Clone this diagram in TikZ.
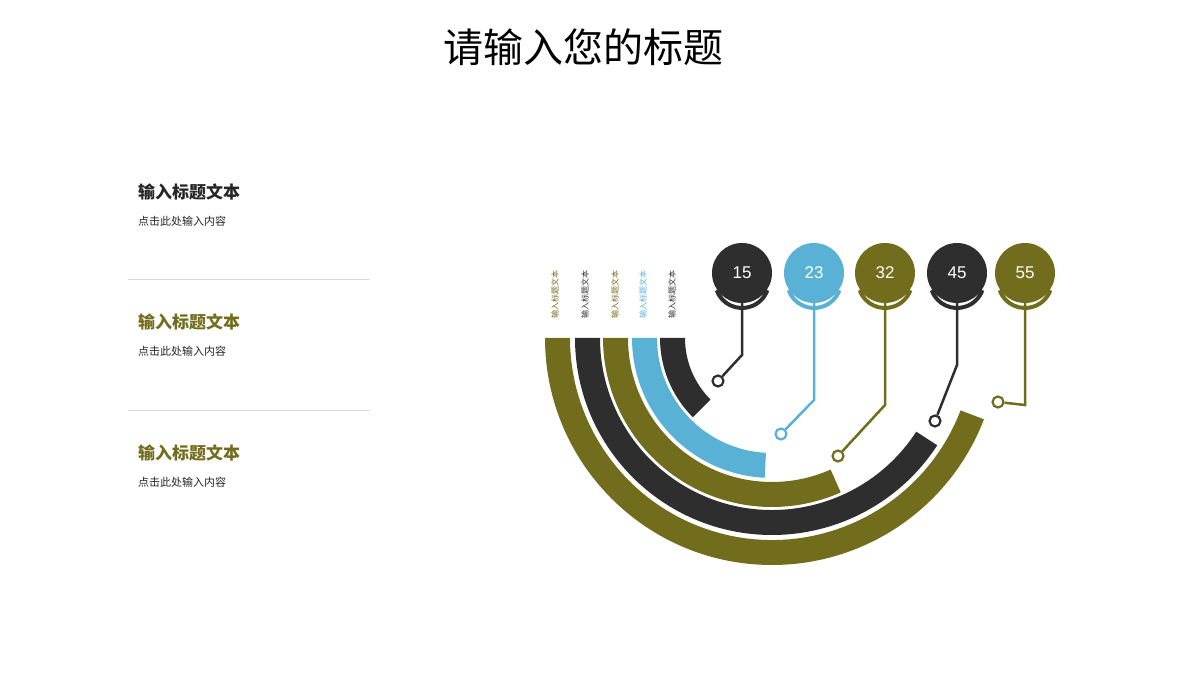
\documentclass[tikz,border=0pt]{standalone}
\usepackage{fontspec}
\setmainfont{Liberation Sans}
\newfontfamily\cjk{Noto Sans CJK SC}
\begin{document}
\begin{tikzpicture}[x=1pt,y=1pt,
  dk/.style={fill=black!82},
  cy/.style={fill=cyan!60!teal!75},
  ol/.style={fill=olive!75!black},
  lbl/.style={font=\cjk\fontsize{8}{8}\selectfont,rotate=90,inner sep=0pt},
  num/.style={circle,minimum size=60pt,inner sep=0pt,text=white,font=\fontsize{17}{17}\selectfont},
  hd/.style={anchor=west,font=\cjk\bfseries\fontsize{17}{17}\selectfont,inner sep=0pt},
  bd/.style={anchor=west,font=\cjk\fontsize{11}{11}\selectfont,inner sep=0pt,text=black!85}]
\colorlet{cdk}{black!82}\colorlet{ccy}{cyan!60!teal!75}\colorlet{col}{olive!75!black}
\useasboundingbox (0,0) rectangle (1200,675);
\node[font=\cjk\fontsize{40}{40}\selectfont] (title) at (583,628) {请输入您的标题};
\node[hd,text=black!85] (h1) at (138,483) {输入标题文本};
\node[bd] (b1) at (138,454) {点击此处输入内容};
\node[hd,text=col] (h2) at (138,353) {输入标题文本};
\node[bd] (b2) at (138,324) {点击此处输入内容};
\node[hd,text=col] (h3) at (138,222) {输入标题文本};
\node[bd] (b3) at (138,193) {点击此处输入内容};
\draw[black!15] (128,396) -- (370,396);
\draw[black!15] (128,265) -- (370,265);
% arcs centre (772,337)
\coordinate (c) at (772,337);
\foreach \ri/\ro/\e/\s in {202/227/339/ol,172/197/327/dk,144/169/294/ol,115/140/267/cy,87/112/225/dk}{
  \path[\s] ([shift={(180:\ro)}]c) arc (180:\e:\ro) -- ([shift={(\e:\ri)}]c) arc (\e:180:\ri) -- cycle;
}
\foreach \x/\s/\n in {555/col/a,585/cdk/b,615/col/c,643/ccy/d,672/cdk/e}{
  \node[lbl,text=\s] (l\n) at (\x,380) {输入标题文本};
}
% circles and leaders
\foreach \x/\c/\v/\by/\rx/\ry in {742/cdk/15/320/718/294, 814/ccy/23/275/781/241, 885/col/32/270/838/219, 957/cdk/45/310/935/254, 1025/col/55/270/998/273}{
  \node[num,fill=\c] (n\v) at (\x,402) {\v};
  \draw[\c,line width=4pt] ([shift={(-160:27)}]\x,402-8) arc (-160:-20:27);
  \coordinate (k\v) at (\x,\by);
  \node[circle,draw=\c,line width=2.2pt,minimum size=11pt,inner sep=0pt] (r\v) at (\rx,\ry) {};
  \draw[\c,line width=2.5pt] (\x,372) -- (k\v) -- (r\v);
}
\end{tikzpicture}
\end{document}
